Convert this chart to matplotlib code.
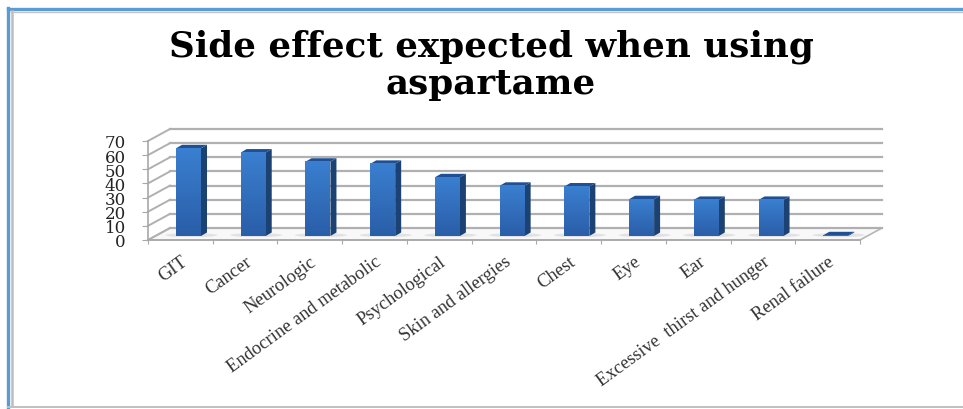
"""Pseudo-3D column chart of expected aspartame side effects."""

import numpy as np
import matplotlib
matplotlib.use("Agg")
import matplotlib.pyplot as plt
from matplotlib.lines import Line2D
from matplotlib.patches import Ellipse, Polygon

W, H = 963, 410

categories = ["GIT", "Cancer", "Neurologic", "Endocrine and metabolic", "Psychological",
              "Skin and allergies", "Chest", "Eye", "Ear",
              "Excessive  thirst and hunger", "Renal failure"]
values = [62, 59, 52.5, 51, 41.5, 35.5, 35, 26, 25.5, 25.5, 0.5]
yticks = [0, 10, 20, 30, 40, 50, 60, 70]
title = "Side effect expected when using\naspartame"

plt.rcParams["font.family"] = ["Liberation Serif", "DejaVu Serif"]

fig = plt.figure(figsize=(W / 100, H / 100), dpi=100)
ax = fig.add_axes([148 / W, 1 - 241 / H, 712 / W, 99 / H])
n = len(categories)

# oblique offset of the back wall, in data units
px_x = n / 712
px_y = 70 / 99
wall_dx = 22 * px_x
wall_dy = 12 * px_y

# floor and back wall grid
ax.add_patch(Polygon([(0, 0), (n, 0), (n + wall_dx, wall_dy), (wall_dx, wall_dy)],
                     fc="#f8f8f8", ec="#b5b5b5", lw=1.2, clip_on=False, zorder=1))
for t in yticks:
    ax.plot([0, wall_dx], [t, t + wall_dy], color="#b0b0b0", lw=1.4, clip_on=False, zorder=1)
    ax.plot([wall_dx, n + wall_dx], [t + wall_dy, t + wall_dy], color="#b0b0b0", lw=1.6,
            clip_on=False, zorder=1)

# columns
bar_w = 25 * px_x
side_dx = 6 * px_x
side_dy = 3.5 * px_y
base_dx = 28 * px_x
base_dy = 4 * px_y
gradient = np.linspace(0, 1, 64).reshape(-1, 1)
cmap = matplotlib.colors.LinearSegmentedColormap.from_list("bar", ["#2a5ea8", "#3a7fd0"])

for i, v in enumerate(values):
    x0 = i + base_dx
    y0 = base_dy
    y1 = y0 + v
    ax.add_patch(Ellipse((x0 + bar_w / 2 + side_dx / 2, y0 + 0.6), 52 * px_x, 4 * px_y,
                         fc="#e2e2e2", ec="none", clip_on=False, zorder=2))
    ax.add_patch(Polygon([(x0 + bar_w, y0), (x0 + bar_w + side_dx, y0 + side_dy),
                          (x0 + bar_w + side_dx, y1 + side_dy), (x0 + bar_w, y1)],
                         fc="#1b4272", ec="none", clip_on=False, zorder=3))
    ax.add_patch(Polygon([(x0, y1), (x0 + bar_w, y1), (x0 + bar_w + side_dx, y1 + side_dy),
                          (x0 + side_dx, y1 + side_dy)],
                         fc="#1f4f94", ec="none", clip_on=False, zorder=3))
    im = ax.imshow(gradient, extent=(x0, x0 + bar_w, y0, y1), origin="lower", aspect="auto",
                   cmap=cmap, vmin=0, vmax=1, zorder=4)
    im.set_clip_on(False)

ax.set_xlim(0, n)
ax.set_ylim(0, 70)

# axes
for s in ["top", "right"]:
    ax.spines[s].set_visible(False)
for s in ["left", "bottom"]:
    ax.spines[s].set_color("#a8a8a8")
    ax.spines[s].set_linewidth(1.2)
ax.patch.set_alpha(0)
ax.set_yticks(yticks)
ax.set_yticklabels([str(t) for t in yticks], family=["DejaVu Serif"], fontsize=12,
                   color="#222222")
ax.set_xticks(np.arange(n + 1))
ax.set_xticklabels([])
ax.set_xticks(np.arange(n) + 0.5, minor=True)
ax.set_xticklabels(categories, minor=True, rotation=36, ha="right", va="top",
                   rotation_mode="anchor", fontsize=13.3, color="#333333")
ax.tick_params(axis="x", which="minor", length=0, pad=9)
ax.tick_params(axis="x", which="major", length=3, color="#a8a8a8")
ax.tick_params(axis="y", length=4, color="#a8a8a8", pad=12)

fig.text(491 / W, 1 - 56 / H, title.split("\n")[0], ha="center", va="baseline", fontsize=25.7,
         fontweight="bold", family="DejaVu Serif", color="#000000")
fig.text(491 / W, 1 - 94 / H, title.split("\n")[1], ha="center", va="baseline", fontsize=25.7,
         fontweight="bold", family="DejaVu Serif", color="#000000")

# slide frame
for (xs, ys, c, lw) in [
    ([8, 8], [9, 410], "#5b9bd5", 2.4),
    ([8, W], [10, 10], "#5b9bd5", 2.4),
    ([11.5, 11.5], [12, 407], "#bdbdbd", 1.8),
    ([11, W], [13, 13], "#c4c4c4", 1.0),
    ([8, W], [408, 408], "#c0c0c0", 1.4),
]:
    fig.add_artist(Line2D(np.array(xs) / W, 1 - np.array(ys) / H, color=c, lw=lw))

fig.savefig("out.png", dpi=100)
